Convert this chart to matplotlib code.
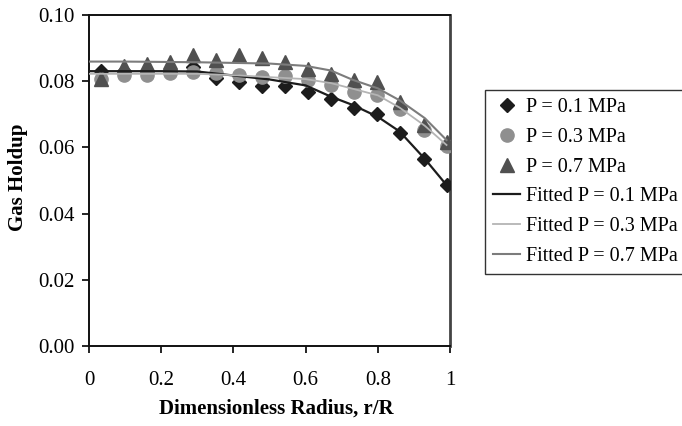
import matplotlib
matplotlib.use('Agg')
import matplotlib.pyplot as plt

plt.rcParams['font.family'] = ['Liberation Serif', 'DejaVu Serif']

# Measured points
r = [0.033, 0.097, 0.161, 0.224, 0.288, 0.352, 0.416, 0.479,
     0.543, 0.607, 0.670, 0.734, 0.798, 0.861, 0.928, 0.990]
holdup_01 = [0.0832, 0.0830, 0.0830, 0.0831, 0.0843, 0.0808, 0.0797, 0.0785,
             0.0784, 0.0766, 0.0747, 0.0718, 0.0700, 0.0643, 0.0564, 0.0486]
holdup_03 = [0.0807, 0.0817, 0.0817, 0.0824, 0.0829, 0.0824, 0.0819, 0.0813,
             0.0816, 0.0804, 0.0789, 0.0768, 0.0758, 0.0715, 0.0653, 0.0605]
holdup_07 = [0.0806, 0.0846, 0.0852, 0.0859, 0.0880, 0.0864, 0.0880, 0.0869,
             0.0859, 0.0836, 0.0820, 0.0802, 0.0796, 0.0738, 0.0668, 0.0617]

# Fitted profiles
r_fit = [0, 0.1, 0.2, 0.3, 0.4, 0.5, 0.6, 0.67, 0.73, 0.8, 0.86, 0.93, 0.99]
fit_01 = [0.0830, 0.0830, 0.0830, 0.0829, 0.0817, 0.0805, 0.0787, 0.0753,
          0.0728, 0.0692, 0.0648, 0.0565, 0.0486]
fit_03 = [0.0822, 0.0822, 0.0822, 0.0822, 0.0818, 0.0812, 0.0806, 0.0794,
          0.0777, 0.0757, 0.0720, 0.0665, 0.0607]
fit_07 = [0.0859, 0.0859, 0.0858, 0.0857, 0.0855, 0.0853, 0.0846, 0.0832,
          0.0804, 0.0778, 0.0742, 0.0688, 0.0622]

fig = plt.figure(figsize=(6.82, 4.26), dpi=100)
ax = fig.add_axes([0.1305, 0.188, 0.5295, 0.777])

ax.plot(r, holdup_01, 'D', color='#1c1c1c', markersize=7.5, label='P = 0.1 MPa', zorder=3)
ax.plot(r, holdup_03, 'o', color='#8f8f8f', markersize=9.5, label='P = 0.3 MPa', zorder=3)
ax.plot(r, holdup_07, '^', color='#505050', markersize=10, label='P = 0.7 MPa', zorder=3)
ax.plot(r_fit, fit_01, '-', color='#1c1c1c', lw=1.6, label='Fitted P = 0.1 MPa', zorder=4)
ax.plot(r_fit, fit_03, '-', color='#b4b4b4', lw=1.3, label='Fitted P = 0.3 MPa', zorder=4)
ax.plot(r_fit, fit_07, '-', color='#7c7c7c', lw=1.5, label='Fitted P = 0.7 MPa', zorder=4)

ax.set_xlim(0, 1)
ax.set_ylim(0, 0.10)
ax.set_xticks([0, 0.2, 0.4, 0.6, 0.8, 1])
ax.set_xticklabels(['0', '0.2', '0.4', '0.6', '0.8', '1'])
ax.set_yticks([0, 0.02, 0.04, 0.06, 0.08, 0.10])
ax.set_yticklabels(['0.00', '0.02', '0.04', '0.06', '0.08', '0.10'])
ax.tick_params(axis='x', direction='out', length=5, width=1.2, pad=13, labelsize=15)
ax.tick_params(axis='y', direction='out', length=5, width=1.2, pad=5, labelsize=15)
for side in ['left', 'bottom', 'top']:
    ax.spines[side].set_linewidth(1.4)
    ax.spines[side].set_color('#111111')
ax.spines['right'].set_linewidth(2)
ax.spines['right'].set_color('#444444')

ax.set_xlabel('Dimensionless Radius, r/R', fontsize=15, fontweight='bold')
ax.xaxis.set_label_coords(0.52, -0.16)
ax.set_ylabel('Gas Holdup', fontsize=15, fontweight='bold')
ax.yaxis.set_label_coords(-0.168, 0.51)

leg = ax.legend(loc='upper left', bbox_to_anchor=(485 / 682, 1 - 90 / 426),
                bbox_transform=fig.transFigure, fontsize=14.5, frameon=True,
                fancybox=False, edgecolor='black', handlelength=1.35,
                handletextpad=0.3, labelspacing=0.53, borderpad=0.4,
                borderaxespad=0)
leg.get_frame().set_linewidth(1.0)

fig.savefig('out.png', dpi=100)
